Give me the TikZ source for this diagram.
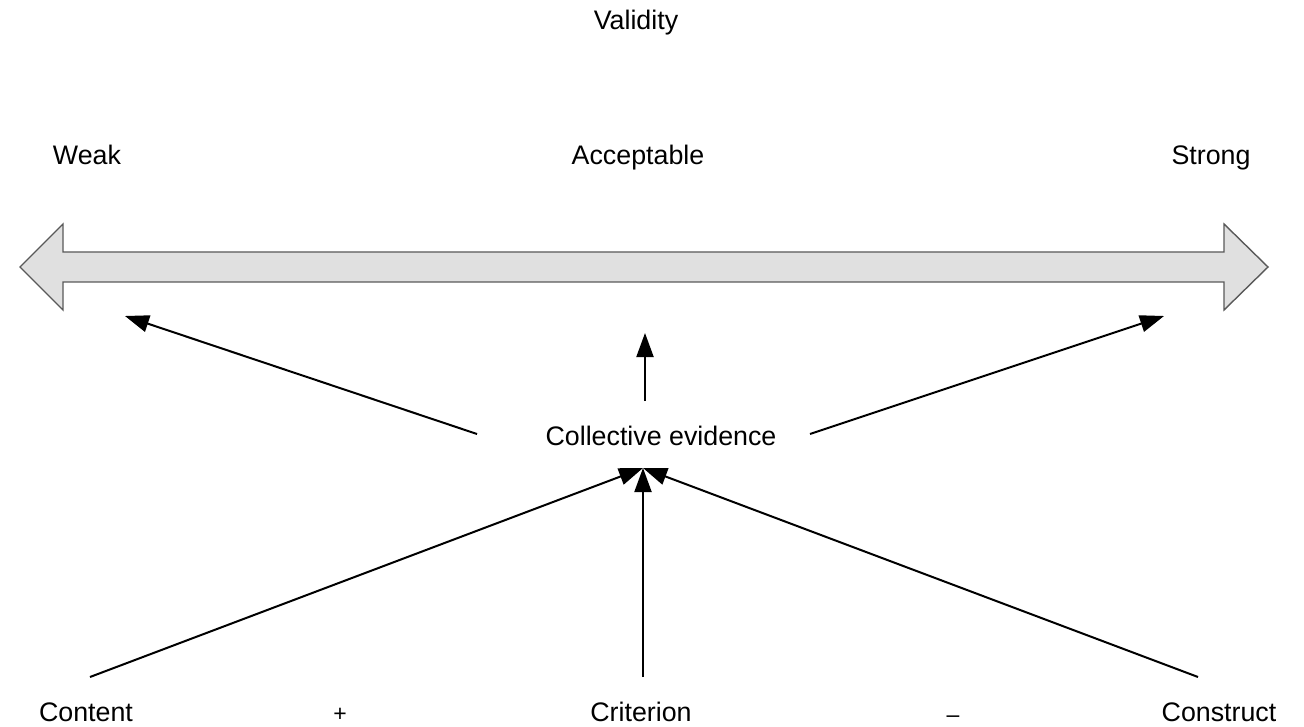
\documentclass[tikz,border=0pt]{standalone}
\usepackage{fontspec}
\setmainfont{Liberation Sans}
\usetikzlibrary{arrows.meta}
\begin{document}
\begin{tikzpicture}[x=1pt,y=-1pt,
  lbl/.style={font=\fontsize{26.8}{30}\selectfont, inner sep=0pt, anchor=base},
  sign/.style={font=\fontsize{23}{26}\selectfont, inner sep=0pt, text depth=0pt, anchor=base},
  conn/.style={line width=2pt, -{Triangle[length=24pt,width=17pt]}},
  bigarrow/.style={fill=black!12, draw=black!65, line width=1.4pt, line join=miter}]
\useasboundingbox (0,0) rectangle (1304,727);
\node[lbl] (validity) at (636,30) {Validity};
\node[lbl] (weak) at (87,165) {Weak};
\node[lbl] (acc) at (638,165) {Acceptable};
\node[lbl] (strong) at (1211,165) {Strong};
\draw[bigarrow] (20,267) -- (63,224) -- (63,252) -- (1224,252) -- (1224,224) -- (1268,267)
  -- (1224,310) -- (1224,282) -- (63,282) -- (63,310) -- cycle;
\node[lbl] (ce) at (661,445) {Collective evidence};
\coordinate (tw) at (125,316);
\coordinate (ta) at (645,333);
\coordinate (ts) at (1164,316);
\coordinate (sw) at (477,434);
\coordinate (sa) at (645,401);
\coordinate (ss) at (810,434);
\draw[conn] (sw) -- (tw);
\draw[conn] (sa) -- (ta);
\draw[conn] (ss) -- (ts);
\coordinate (cin) at (643,468);
\coordinate (s1) at (90,677);
\coordinate (s2) at (643,677);
\coordinate (s3) at (1198,677);
\draw[conn] (s1) -- (cin);
\draw[conn] (s2) -- (cin);
\draw[conn] (s3) -- (cin);
\node[lbl] (content) at (86,721) {Content};
\node[lbl] (crit) at (641,721) {Criterion};
\node[lbl] (constr) at (1219,721) {Construct};
\node[sign] (plus) at (340,721) {+};
\node[sign] (minus) at (953,722) {–};
\end{tikzpicture}
\end{document}
